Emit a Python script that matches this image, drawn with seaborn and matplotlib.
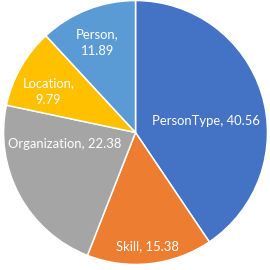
import matplotlib
matplotlib.use("Agg")
import matplotlib.pyplot as plt
import seaborn as sns

sns.set_theme(style="white")
plt.rcParams['font.family'] = ['Lato', 'DejaVu Sans']

categories = ["PersonType", "Skill", "Organization", "Location", "Person"]
values = [40.56, 15.38, 22.38, 9.79, 11.89]
colors = ["#4472C4", "#ED7D31", "#A5A5A5", "#FFC000", "#5B9BD5"]
# label anchor positions (pie units, radius = 1)
label_pos = [(0.53, 0.09), (0.09, -0.86), (-0.54, -0.09), (-0.66, 0.31), (-0.29, 0.68)]

fig = plt.figure(figsize=(2.7, 2.7), dpi=100)
ax = fig.add_axes([0, 0, 1, 1])
wedges, _ = ax.pie(values, colors=colors, startangle=90, counterclock=False,
                   wedgeprops=dict(edgecolor="white", linewidth=1.1))
for (x, y), cat, v in zip(label_pos, categories, values):
    if cat in ("Location", "Person"):
        txt = f"{cat},\n{v:.2f}"
    else:
        txt = f"{cat}, {v:.2f}"
    ax.text(x, y, txt, color="white", fontsize=9.4, ha="center", va="center",
            linespacing=1.5)
ax.set_xlim(-1.027, 1.019)
ax.set_ylim(-1.042, 1.004)
ax.set_aspect("equal")
ax.axis("off")
fig.savefig("out.png", dpi=100, facecolor="white")
